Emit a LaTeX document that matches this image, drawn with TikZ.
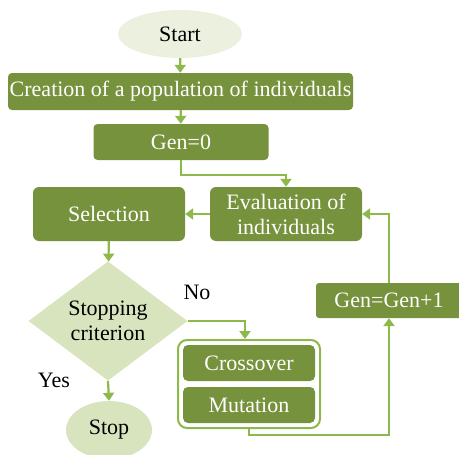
\documentclass[tikz,border=0pt]{standalone}
\usepackage{fontspec}
\setmainfont{Liberation Serif}
\usetikzlibrary{shapes.geometric,arrows.meta}
\definecolor{olive}{HTML}{76923C}
\definecolor{lightfill}{HTML}{D7E4BD}
\definecolor{palefill}{HTML}{EBF1DE}
\definecolor{arrowgreen}{HTML}{8DB84A}
\tikzset{
  txt/.style={font=\fontsize{22}{25}\selectfont},
  gbox/.style={txt, rectangle, rounded corners=4pt, fill=olive, text=white, inner sep=0pt, align=center},
  conn/.style={draw=arrowgreen, line width=2.2pt, -{Triangle[width=11pt,length=8pt]}}
}
\begin{document}
\begin{tikzpicture}[x=1pt,y=-1pt]
\useasboundingbox (0,0) rectangle (459,455);
\node[txt, ellipse, fill=palefill, minimum width=124pt, minimum height=48pt, inner sep=0pt] (start) at (180,34) {Start};
\node[gbox, minimum width=345pt, minimum height=37pt] (create) at (180.5,91.5) {Creation of a population of individuals};
\node[gbox, minimum width=175pt, minimum height=36pt] (gen0) at (181,142) {Gen=0};
\node[gbox, minimum width=152pt, minimum height=54pt, rounded corners=6pt] (sel) at (109,214) {Selection};
\node[gbox, minimum width=152pt, minimum height=54pt, rounded corners=6pt] (eval) at (286,214) {Evaluation of\\individuals};
\node[txt, diamond, fill=lightfill, minimum width=159pt, minimum height=108pt, inner sep=0pt, align=center] (crit) at (108,321) {Stopping\\criterion};
\node[rectangle, rounded corners=9pt, draw=arrowgreen, line width=2pt, fill=white, minimum width=142pt, minimum height=88pt] (cont) at (249,384) {};
\node[gbox, minimum width=132pt, minimum height=36pt, rounded corners=5pt] (cross) at (249,363) {Crossover};
\node[gbox, minimum width=132pt, minimum height=36pt, rounded corners=5pt] (mut) at (249,405) {Mutation};
\node[txt, ellipse, fill=lightfill, minimum width=86pt, minimum height=58pt, inner sep=0pt] (stop) at (109,430) {Stop};
\node[gbox, minimum width=146pt, minimum height=35pt, rounded corners=3pt] (gen1) at (389,300.5) {Gen=Gen+1};
\node[txt] (no) at (197,292) {No};
\node[txt] (yes) at (54,380) {Yes};
\draw[conn] (start) -- (create);
\draw[conn] (create) -- (gen0);
\draw[conn] (gen0.south) -- ++(0,15) -| (eval.north);
\draw[conn] (eval) -- (sel);
\draw[conn] (sel) -- (crit);
\draw[conn] (crit.east) -| ([xshift=-4pt]cont.north);
\draw[conn] (crit.south) -- (stop.north);
\draw[conn] (cont.south) -- ++(0,6) -| (gen1.south);
\draw[conn] (gen1.north) |- (eval.east);
\end{tikzpicture}
\end{document}
